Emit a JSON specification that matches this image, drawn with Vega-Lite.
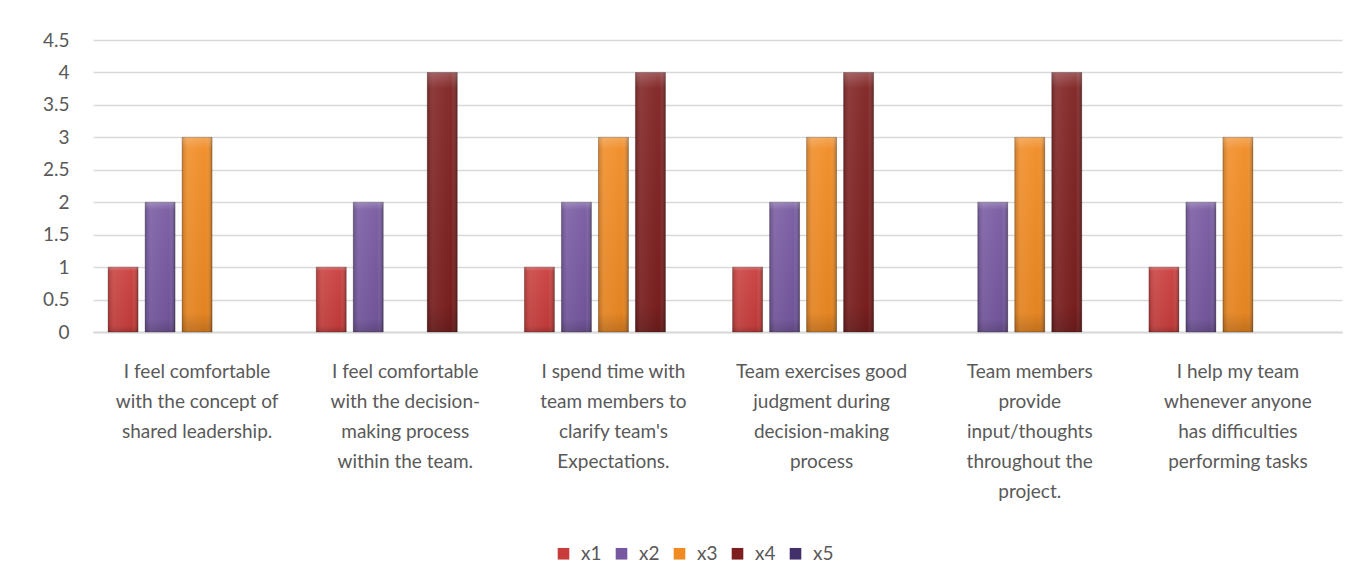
{
  "$schema": "https://vega.github.io/schema/vega-lite/v6.json",
  "autosize": {"type": "none"},
  "width": 1249,
  "height": 292,
  "padding": {"left": 93, "top": 40, "right": 17, "bottom": 255},
  "background": "white",
  "config": {
    "view": {"stroke": null},
    "font": "Lato",
    "axis": {"labelFont": "Lato", "labelColor": "#595959", "labelFontSize": 19}
  },
  "data": {
    "values": [
      {"statement": "I feel comfortable\nwith the concept of\nshared leadership.", "series": "x1", "score": 1},
      {"statement": "I feel comfortable\nwith the concept of\nshared leadership.", "series": "x2", "score": 2},
      {"statement": "I feel comfortable\nwith the concept of\nshared leadership.", "series": "x3", "score": 3},
      {"statement": "I feel comfortable\nwith the decision-\nmaking process\nwithin the team.", "series": "x1", "score": 1},
      {"statement": "I feel comfortable\nwith the decision-\nmaking process\nwithin the team.", "series": "x2", "score": 2},
      {"statement": "I feel comfortable\nwith the decision-\nmaking process\nwithin the team.", "series": "x4", "score": 4},
      {"statement": "I spend time  with\nteam members to\nclarify team's\nExpectations.", "series": "x1", "score": 1},
      {"statement": "I spend time  with\nteam members to\nclarify team's\nExpectations.", "series": "x2", "score": 2},
      {"statement": "I spend time  with\nteam members to\nclarify team's\nExpectations.", "series": "x3", "score": 3},
      {"statement": "I spend time  with\nteam members to\nclarify team's\nExpectations.", "series": "x4", "score": 4},
      {"statement": "Team exercises good\njudgment during\ndecision-making\nprocess", "series": "x1", "score": 1},
      {"statement": "Team exercises good\njudgment during\ndecision-making\nprocess", "series": "x2", "score": 2},
      {"statement": "Team exercises good\njudgment during\ndecision-making\nprocess", "series": "x3", "score": 3},
      {"statement": "Team exercises good\njudgment during\ndecision-making\nprocess", "series": "x4", "score": 4},
      {"statement": "Team members\nprovide\ninput/thoughts\nthroughout the\nproject.", "series": "x2", "score": 2},
      {"statement": "Team members\nprovide\ninput/thoughts\nthroughout the\nproject.", "series": "x3", "score": 3},
      {"statement": "Team members\nprovide\ninput/thoughts\nthroughout the\nproject.", "series": "x4", "score": 4},
      {"statement": "I help my team\nwhenever anyone\nhas difficulties\nperforming tasks", "series": "x1", "score": 1},
      {"statement": "I help my team\nwhenever anyone\nhas difficulties\nperforming tasks", "series": "x2", "score": 2},
      {"statement": "I help my team\nwhenever anyone\nhas difficulties\nperforming tasks", "series": "x3", "score": 3}
    ]
  },
  "encoding": {
    "x": {
      "field": "statement",
      "type": "nominal",
      "sort": null,
      "title": null,
      "scale": {"paddingInner": 0.145, "paddingOuter": 0.0725},
      "axis": {
        "labelAngle": 0,
        "labelExpr": "split(datum.value, '\\n')",
        "labelLineHeight": 30,
        "labelPadding": 30,
        "labelLimit": 400,
        "labelBaseline": "top",
        "ticks": false,
        "domain": true,
        "domainColor": "#d9d9d9",
        "domainWidth": 2,
        "grid": false
      }
    },
    "xOffset": {
      "field": "series",
      "type": "nominal",
      "scale": {"domain": ["x1", "x2", "x3", "x4", "x5"], "paddingInner": 0.19, "paddingOuter": 0}
    },
    "y": {
      "field": "score",
      "type": "quantitative",
      "title": null,
      "scale": {"domain": [0, 4.5], "nice": false},
      "axis": {
        "values": [0, 0.5, 1, 1.5, 2, 2.5, 3, 3.5, 4, 4.5],
        "format": "~g",
        "ticks": false,
        "domain": false,
        "labelPadding": 24,
        "gridColor": "#d9d9d9",
        "gridWidth": 1.5
      }
    }
  },
  "layer": [
    {
      "mark": {"type": "bar", "stroke": "#000000", "strokeOpacity": 0.25, "strokeWidth": 1},
      "encoding": {
        "color": {
          "field": "series",
          "type": "nominal",
          "scale": {
            "domain": ["x1", "x2", "x3", "x4", "x5"],
            "range": ["#c83d3b", "#7658a0", "#f08a22", "#7e1f1f", "#42306a"]
          },
          "legend": {
            "title": null,
            "orient": "none",
            "legendX": 461,
            "legendY": 504,
            "direction": "horizontal",
            "symbolType": "square",
            "symbolSize": 135,
            "symbolStrokeWidth": 0,
            "labelFont": "Lato",
            "labelFontSize": 19,
            "labelColor": "#595959",
            "labelOffset": 8,
            "columnPadding": 10
          }
        }
      }
    },
    {
      "mark": {
        "type": "bar",
        "fill": {
          "gradient": "linear",
          "x1": 0, "y1": 0, "x2": 1, "y2": 0,
          "stops": [
            {"offset": 0, "color": "rgba(0,0,0,0.18)"},
            {"offset": 0.2, "color": "rgba(255,255,255,0.08)"},
            {"offset": 0.8, "color": "rgba(255,255,255,0.0)"},
            {"offset": 1, "color": "rgba(0,0,0,0.28)"}
          ]
        }
      }
    },
    {
      "mark": {
        "type": "bar",
        "fill": {
          "gradient": "linear",
          "x1": 0, "y1": 0, "x2": 0, "y2": 1,
          "stops": [
            {"offset": 0, "color": "rgba(255,255,255,0.25)"},
            {"offset": 0.06, "color": "rgba(255,255,255,0.05)"},
            {"offset": 0.9, "color": "rgba(0,0,0,0.05)"},
            {"offset": 1, "color": "rgba(0,0,0,0.2)"}
          ]
        }
      }
    }
  ]
}
